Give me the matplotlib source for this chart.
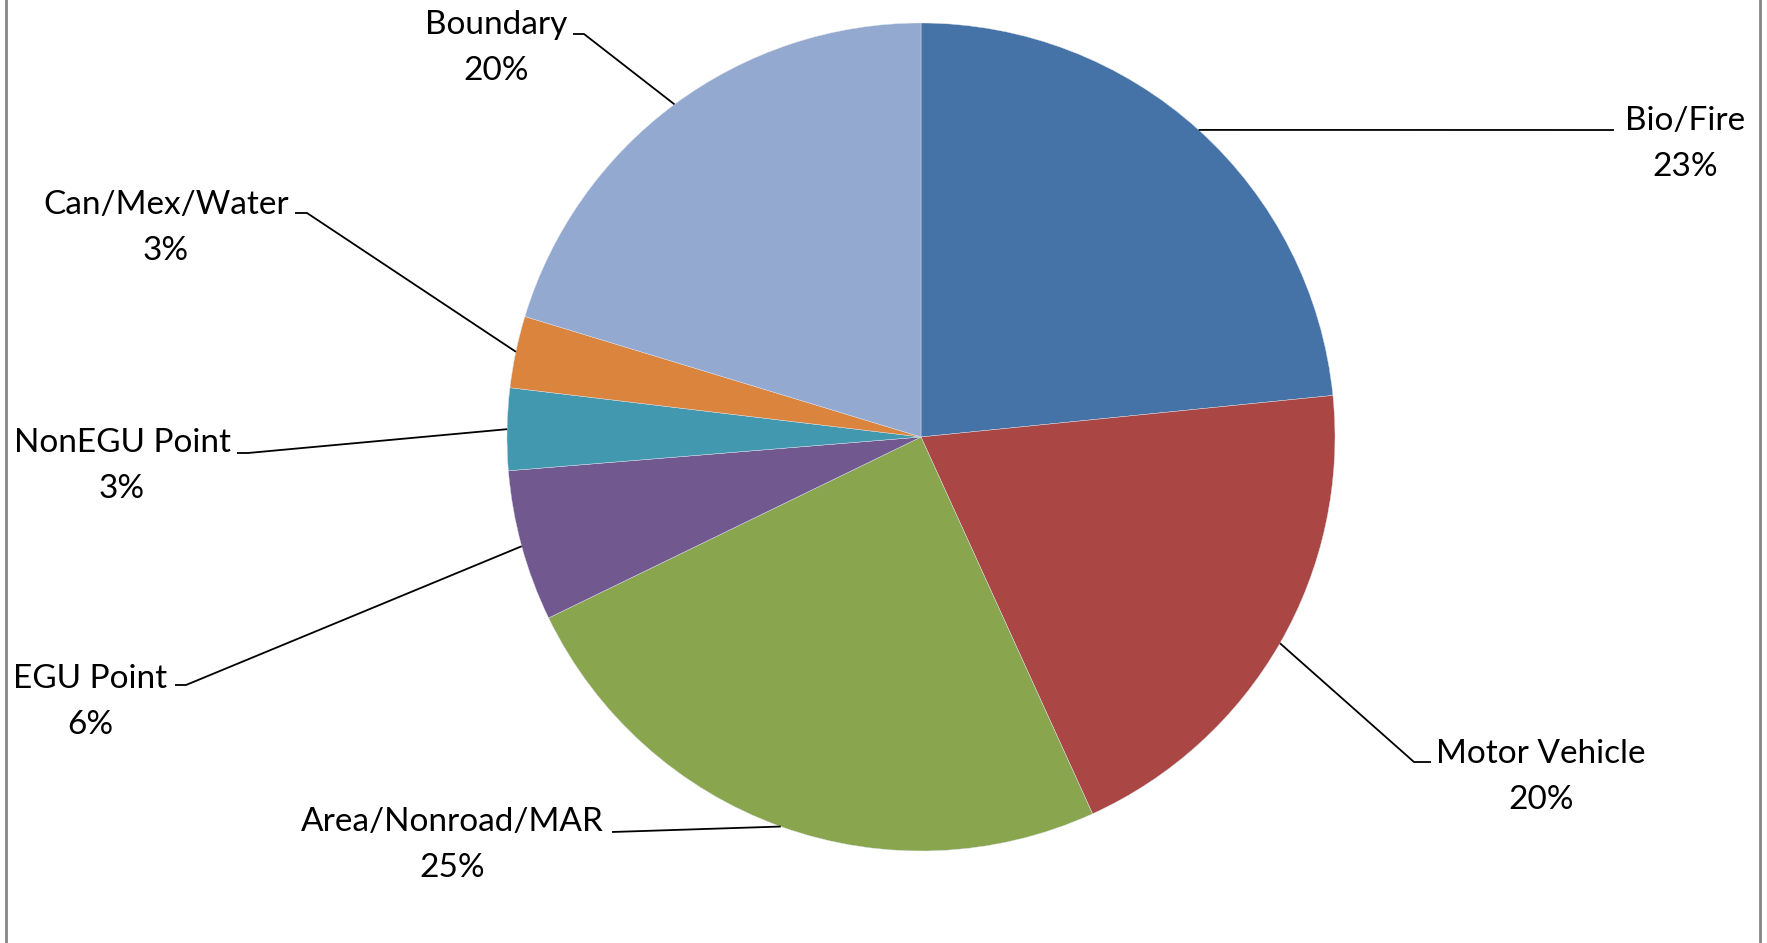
import matplotlib
matplotlib.use("Agg")
import numpy as np
import matplotlib.pyplot as plt

W, H = 1767, 943

sources = ["Bio/Fire", "Motor Vehicle", "Area/Nonroad/MAR", "EGU Point",
           "NonEGU Point", "Can/Mex/Water", "Boundary"]
shares = [23.4, 19.8, 24.6, 5.9, 3.2, 2.8, 20.3]
colors = ["#4572A7", "#AA4643", "#89A54E", "#71588F",
          "#4198AF", "#DB843D", "#93A9CF"]

# label block centre, then leader path from the text side (pixel coords, y down)
label_pos = {
    "Bio/Fire": (1685, 144),
    "Motor Vehicle": (1541, 777),
    "Area/Nonroad/MAR": (452, 845),
    "EGU Point": (90, 702),
    "NonEGU Point": (122, 466),
    "Can/Mex/Water": (166, 228),
    "Boundary": (496, 48),
}
leader_pts = {
    "Bio/Fire": [(1614, 130)],
    "Motor Vehicle": [(1431, 762), (1414, 762)],
    "Area/Nonroad/MAR": [(612, 832)],
    "EGU Point": [(175, 685), (186, 685)],
    "NonEGU Point": [(237, 453), (248, 453)],
    "Can/Mex/Water": [(295, 213), (307, 213)],
    "Boundary": [(573, 34), (584, 34)],
}

CX, CY, R = 921, 437, 414

plt.rcParams["font.family"] = ["Lato", "DejaVu Sans"]

fig = plt.figure(figsize=(W / 100, H / 100), dpi=100)
ax = fig.add_axes([0, 0, 1, 1])

wedges, _ = ax.pie(shares, colors=colors, startangle=90, counterclock=False,
                   center=(CX, H - CY), radius=R, frame=True,
                   wedgeprops=dict(edgecolor="#dde3ee", linewidth=0.3))

for w, name, val in zip(wedges, sources, shares):
    mid = np.deg2rad((w.theta1 + w.theta2) / 2)
    px = CX + R * np.cos(mid)
    py = (H - CY) + R * np.sin(mid)
    path = [(x, H - y) for x, y in leader_pts[name]] + [(px, py)]
    xs, ys = zip(*path)
    ax.plot(xs, ys, color="black", lw=1.3, solid_capstyle="butt")
    tx, ty = label_pos[name]
    ax.text(tx, H - ty, f"{name}\n{val:.0f}%", ha="center", va="center",
            multialignment="center", fontsize=24, linespacing=1.65)

# chart frame edges
ax.plot([6, 6], [0, H], color="#868686", lw=2)
ax.plot([1760, 1760], [0, H], color="#868686", lw=2)

ax.set_xlim(0, W)
ax.set_ylim(0, H)
ax.set_aspect("auto")
ax.axis("off")

fig.savefig("out.png", dpi=100, facecolor="white")
